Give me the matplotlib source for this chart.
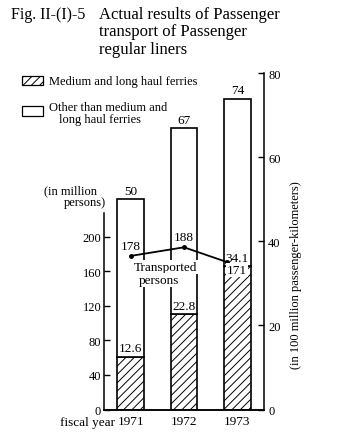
import matplotlib
matplotlib.use("Agg")
import matplotlib.pyplot as plt
from matplotlib.patches import Rectangle

plt.rcParams["font.family"] = ["Liberation Serif", "DejaVu Serif"]
plt.rcParams["hatch.linewidth"] = 0.7

# data
years = ["1971", "1972", "1973"]
ferry_pkm = [12.6, 22.8, 34.1]     # medium and long haul ferries (100 mil. passenger-km)
total_pkm = [50, 67, 74]           # total passenger-km
persons = [178, 188, 171]          # transported persons (million)
left_ticks = [0, 40, 80, 120, 160, 200]
right_ticks = [0, 20, 40, 60, 80]

W, H = 361, 439
fig = plt.figure(figsize=(W / 100, H / 100), dpi=100)
fig.patch.set_facecolor("white")


def fx(x):
    return x / W


def fy(y):
    return 1 - y / H


ax_p = fig.add_axes([fx(104), fy(410.5), 160 / W, 336.5 / H])
ax_k = ax_p.twinx()
ax_p.set_zorder(ax_k.get_zorder() + 1)   # line on top of the white bars
ax_p.patch.set_visible(False)

ax_p.set_xlim(-0.5, 2.5)
ax_p.set_ylim(0, 390)
ax_k.set_ylim(0, 390 / 4.87)

x = list(range(len(years)))
other = [t - f for t, f in zip(total_pkm, ferry_pkm)]
ax_k.bar(x, ferry_pkm, width=0.5, facecolor="white", edgecolor="black",
         hatch="////", linewidth=1.2)
ax_k.bar(x, other, bottom=ferry_pkm, width=0.5, facecolor="white",
         edgecolor="black", linewidth=1.2)

for i in x:
    ax_k.annotate(f"{total_pkm[i]}", (i, total_pkm[i]), xytext=(0, 1.5),
                  textcoords="offset points", ha="center", va="bottom", fontsize=9.5)
    ax_k.annotate(f"{ferry_pkm[i]}", (i, ferry_pkm[i]), xytext=(0, 1.5),
                  textcoords="offset points", ha="center", va="bottom", fontsize=9.5)

# in the original the last point sits at the left edge of the 1973 bar
line_x = [x[0], x[1], x[2] - 0.2]
ax_p.plot(line_x, persons, color="black", lw=1.3, marker="o", ms=2.5)
for i in x:
    if i < 2:
        ax_p.annotate(f"{persons[i]}", (i, persons[i]), xytext=(0, 3),
                      textcoords="offset points", ha="center", va="bottom", fontsize=9.5)
    else:
        ax_p.annotate(f"{persons[i]}", (i, persons[i]), xytext=(0, -1.5),
                      textcoords="offset points", ha="center", va="top", fontsize=9.5,
                      bbox=dict(facecolor="white", edgecolor="none", pad=0.6))

# axes styling
for side in ["top"]:
    ax_p.spines[side].set_visible(False)
    ax_k.spines[side].set_visible(False)
ax_k.spines["left"].set_visible(False)
ax_p.spines["right"].set_visible(False)
ax_p.spines["left"].set_bounds(0, 228)
ax_k.spines["right"].set_bounds(0, 80)
for ax in (ax_p, ax_k):
    for s in ax.spines.values():
        s.set_linewidth(1.1)

ax_p.set_yticks(left_ticks)
ax_k.set_yticks(right_ticks)
ax_p.tick_params(axis="y", direction="in", length=4, width=1, pad=2, labelsize=9)
ax_k.tick_params(axis="y", direction="in", length=4, width=1, pad=3, labelsize=9)
ax_p.set_xticks(x)
ax_p.set_xticklabels(years)
ax_p.tick_params(axis="x", length=0, pad=4, labelsize=9.5)

# title
fig.text(fx(11), fy(15), "Fig. II-(I)-5", va="center", ha="left", fontsize=11.5)
title_lines = ["Actual results of Passenger", "transport of Passenger", "regular liners"]
for k, line in enumerate(title_lines):
    fig.text(fx(99), fy(15 + 17.5 * k), line, va="center", ha="left", fontsize=12)

# legend
fig.add_artist(Rectangle((fx(22), fy(86)), 21 / W, 9 / H, transform=fig.transFigure,
                         facecolor="white", edgecolor="black", hatch="////", lw=0.9))
fig.add_artist(Rectangle((fx(22), fy(117)), 21 / W, 10 / H, transform=fig.transFigure,
                         facecolor="white", edgecolor="black", lw=0.9))
fig.text(fx(49), fy(82), "Medium and long haul ferries", va="center", fontsize=9)
fig.text(fx(49), fy(108), "Other than medium and", va="center", fontsize=9)
fig.text(fx(59), fy(120), "long haul ferries", va="center", fontsize=9)

# axis notes
fig.text(fx(70), fy(191), "(in million", ha="center", va="center", fontsize=9)
fig.text(fx(85), fy(203), "persons)", ha="center", va="center", fontsize=9)
fig.text(fx(115), fy(423), "fiscal year", ha="right", va="center", fontsize=9.5)
white_box = dict(facecolor="white", edgecolor="none", pad=0.5)
fig.text(fx(166), fy(268), "Transported", ha="center", va="center", fontsize=9.5,
         bbox=white_box, zorder=5)
fig.text(fx(159), fy(281), "persons", ha="center", va="center", fontsize=9.5,
         bbox=white_box, zorder=5)
fig.text(fx(296), fy(275), "(in 100 million passenger-kilometers)", rotation=90,
         ha="center", va="center", fontsize=9)

fig.savefig("out.png", dpi=100, facecolor="white")
